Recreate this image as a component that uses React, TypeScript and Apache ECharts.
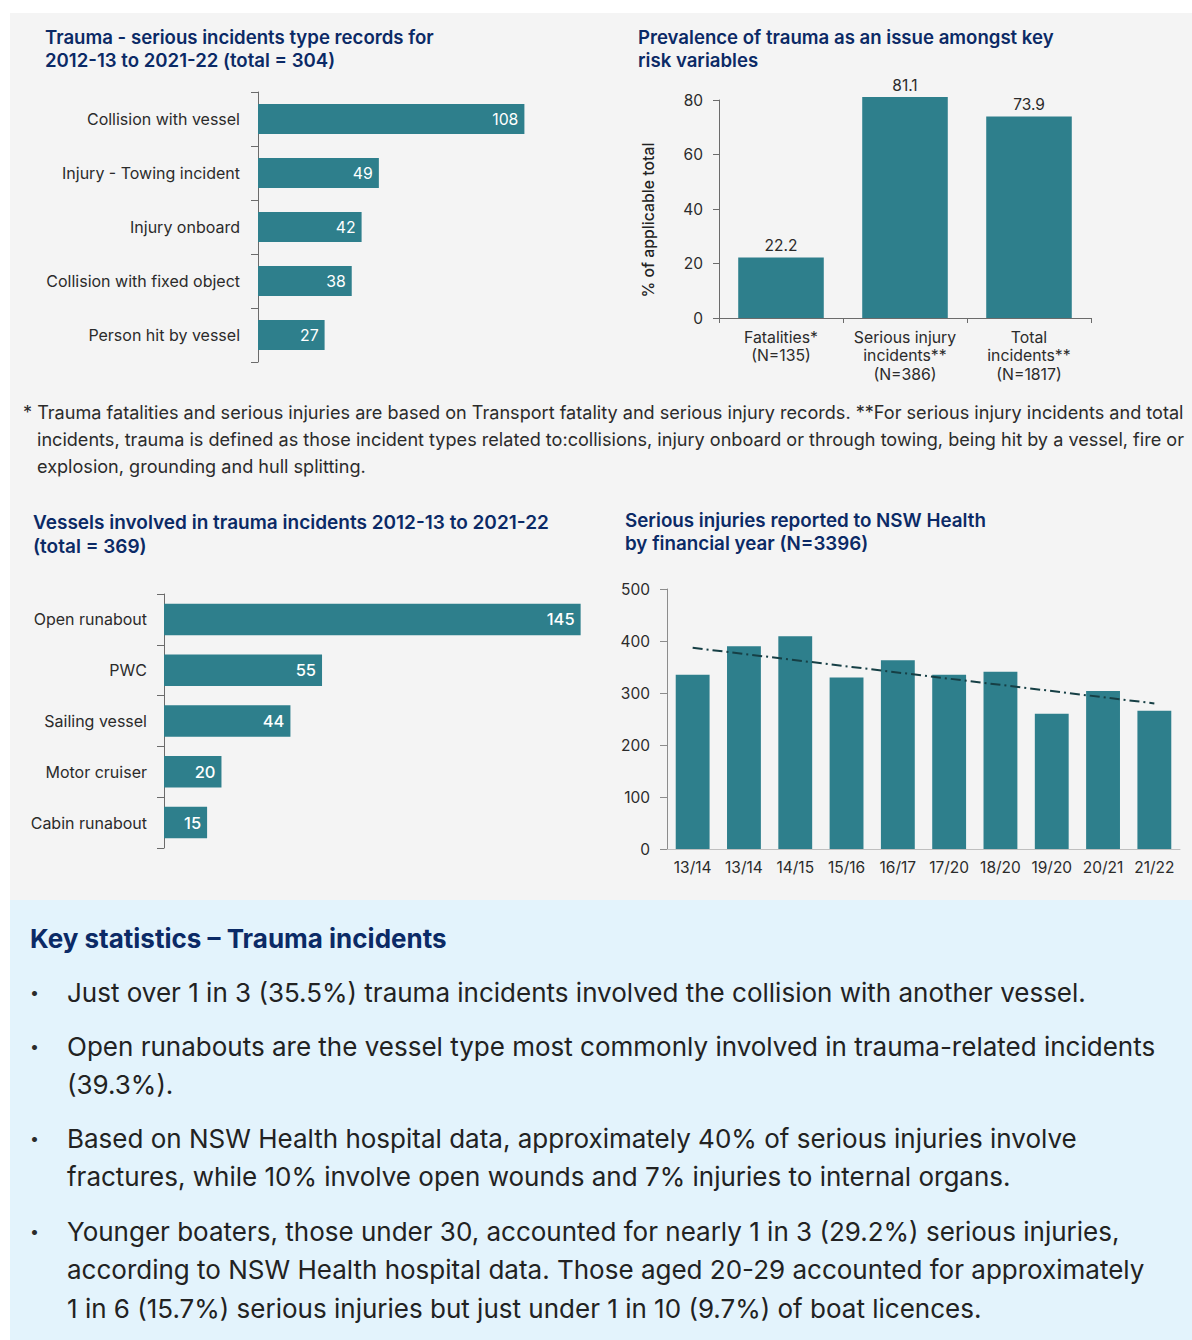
import React, { useEffect, useRef } from "react";
import * as echarts from "echarts";

const FONT = "Inter, 'Noto Sans', sans-serif";
const NAVY = "#0b2a66";
const TEAL = "#2e7f8c";
const TEXT = "#2b2b2b";

// Chart 1
const incidentTypes = [
  "Collision with vessel",
  "Injury - Towing incident",
  "Injury onboard",
  "Collision with fixed object",
  "Person hit by vessel",
];
const incidentCounts = [108, 49, 42, 38, 27];

// Chart 2
const riskCategories = [
  "Fatalities*\n(N=135)",
  "Serious injury\nincidents**\n(N=386)",
  "Total\nincidents**\n(N=1817)",
];
const riskPercent = [22.2, 81.1, 73.9];
const riskAxisName = "% of applicable total";

// Chart 3
const vesselTypes = ["Open runabout", "PWC", "Sailing vessel", "Motor cruiser", "Cabin runabout"];
const vesselCounts = [145, 55, 44, 20, 15];

// Chart 4
const financialYears = ["13/14", "13/14", "14/15", "15/16", "16/17", "17/20", "18/20", "19/20", "20/21", "21/22"];
const seriousInjuries = [335, 390, 409, 330, 363, 335, 341, 260, 304, 266];
const trendEnds = [387, 280];

// Texts
const title1Lines = ["Trauma - serious incidents type records for", "2012-13 to 2021-22 (total = 304)"];
const title2Lines = ["Prevalence of trauma as an issue amongst key", "risk variables"];
const title3Lines = ["Vessels involved in trauma incidents 2012-13 to 2021-22", "(total = 369)"];
const title4Lines = ["Serious injuries reported to NSW Health", "by financial year (N=3396)"];
const footnoteLines = [
  "* Trauma fatalities and serious injuries are based on Transport fatality and serious injury records. **For serious injury incidents and total",
  "incidents, trauma is defined as those incident types related to:collisions, injury onboard or through towing, being hit by a vessel, fire or",
  "explosion, grounding and hull splitting.",
];
const keyTitle = "Key statistics \u2013 Trauma incidents";
const keyBullets = [
  ["Just over 1 in 3 (35.5%) trauma incidents involved the collision with another vessel."],
  ["Open runabouts are the vessel type most commonly involved in trauma-related incidents", "(39.3%)."],
  [
    "Based on NSW Health hospital data, approximately 40% of serious injuries involve",
    "fractures, while 10% involve open wounds and 7% injuries to internal organs.",
  ],
  [
    "Younger boaters, those under 30, accounted for nearly 1 in 3 (29.2%) serious injuries,",
    "according to NSW Health hospital data. Those aged 20-29 accounted for approximately",
    "1 in 6 (15.7%) serious injuries but just under 1 in 10 (9.7%) of boat licences.",
  ],
];

function txt(text: string, x: number, y: number, size: number, color: string, weight: any = "normal") {
  return {
    type: "text",
    x,
    y,
    z: 10,
    style: {
      text,
      fontSize: size,
      fontFamily: FONT,
      fontWeight: weight,
      fill: color,
      verticalAlign: "middle",
      align: "left",
    },
  };
}

export default function App() {
  const ref = useRef<HTMLDivElement>(null);

  useEffect(() => {
    document.body.style.margin = "0";
    const chart = echarts.init(ref.current!, null, { renderer: "svg" });

    const graphics: any[] = [
      { type: "rect", z: -10, shape: { x: 10, y: 13, width: 1182, height: 887 }, style: { fill: "#f4f4f4" } },
      { type: "rect", z: -10, shape: { x: 10, y: 900, width: 1182, height: 440 }, style: { fill: "#e3f3fc" } },
    ];
    title1Lines.forEach((t, i) => graphics.push(txt(t, 45, 37 + i * 23, 18.6, NAVY, 600)));
    title2Lines.forEach((t, i) => graphics.push(txt(t, 638, 37 + i * 23, 18.6, NAVY, 600)));
    title3Lines.forEach((t, i) => graphics.push(txt(t, 33, 522 + i * 24, 19, NAVY, 600)));
    title4Lines.forEach((t, i) => graphics.push(txt(t, 625, 520 + i * 23, 18.8, NAVY, 600)));
    footnoteLines.forEach((t, i) => graphics.push(txt(t, i === 0 ? 23 : 37, 412 + i * 27, 18.1, TEXT)));
    graphics.push(txt(keyTitle, 30, 938, 26, NAVY, 700));
    const bulletY = [992, 1046, 1138, 1231];
    keyBullets.forEach((lines, b) => {
      graphics.push(txt("\u2022", 30, bulletY[b], 16, TEXT));
      lines.forEach((t, i) => graphics.push(txt(t, 67, bulletY[b] + i * 38.5, 26, "#222")));
    });
    // rotated y-axis title of chart 2
    graphics.push({
      type: "text",
      x: 648,
      y: 220,
      rotation: Math.PI / 2,
      z: 10,
      style: {
        text: riskAxisName,
        fontSize: 15.8,
        fontFamily: FONT,
        fontWeight: 500,
        fill: "#222",
        align: "center",
        verticalAlign: "middle",
      },
    });

    const axisGray = "#6b6b6b";
    const labelStyle = { fontFamily: FONT, color: TEXT };

    const option: any = {
      animation: false,
      backgroundColor: "#ffffff",
      textStyle: { fontFamily: FONT },
      graphic: { elements: graphics },
      grid: [
        { left: 258, top: 92, width: 296, height: 270 },
        { left: 719, top: 100, width: 372, height: 218 },
        { left: 164, top: 594, width: 431, height: 254 },
        { left: 667, top: 589, width: 513, height: 260 },
      ],
      xAxis: [
        { gridIndex: 0, type: "value", min: 0, max: 120, show: false },
        {
          gridIndex: 1,
          type: "category",
          data: riskCategories,
          axisLine: { lineStyle: { color: axisGray } },
          axisTick: { show: true, length: 5, lineStyle: { color: axisGray } },
          axisLabel: { ...labelStyle, fontSize: 15.8, lineHeight: 18.5, margin: 10, interval: 0 },
        },
        { gridIndex: 2, type: "value", min: 0, max: 150, show: false },
        {
          gridIndex: 3,
          type: "category",
          data: financialYears,
          axisLine: { lineStyle: { color: "#bfbfbf" } },
          axisTick: { show: false },
          axisLabel: { ...labelStyle, fontSize: 15.5, margin: 10, interval: 0 },
        },
      ],
      yAxis: [
        {
          gridIndex: 0,
          type: "category",
          inverse: true,
          data: incidentTypes,
          axisLine: { show: true, lineStyle: { color: axisGray } },
          axisTick: { show: true, length: 7, lineStyle: { color: axisGray } },
          axisLabel: { ...labelStyle, fontSize: 16, margin: 18 },
        },
        {
          gridIndex: 1,
          type: "value",
          min: 0,
          max: 80,
          interval: 20,
          axisLine: { show: true, lineStyle: { color: axisGray } },
          axisTick: { show: true, length: 6, lineStyle: { color: axisGray } },
          axisLabel: { ...labelStyle, fontSize: 15.5, margin: 16 },
          splitLine: { show: false },
        },
        {
          gridIndex: 2,
          type: "category",
          inverse: true,
          data: vesselTypes,
          axisLine: { show: true, lineStyle: { color: axisGray } },
          axisTick: { show: true, length: 7, lineStyle: { color: axisGray } },
          axisLabel: { ...labelStyle, fontSize: 16, margin: 17 },
        },
        {
          gridIndex: 3,
          type: "value",
          min: 0,
          max: 500,
          interval: 100,
          axisLine: { show: true, lineStyle: { color: "#8c8c8c" } },
          axisTick: { show: true, length: 7, lineStyle: { color: "#8c8c8c" } },
          axisLabel: { ...labelStyle, fontSize: 15.5, margin: 17 },
          splitLine: { show: false },
        },
      ],
      series: [
        {
          type: "bar",
          xAxisIndex: 0,
          yAxisIndex: 0,
          data: incidentCounts,
          barWidth: "56%",
          itemStyle: { color: TEAL },
          label: { show: true, position: "insideRight", distance: 6, color: "#fff", fontSize: 15.8, fontFamily: FONT },
        },
        {
          type: "bar",
          xAxisIndex: 1,
          yAxisIndex: 1,
          data: riskPercent,
          barWidth: "69%",
          clip: false,
          itemStyle: { color: TEAL },
          label: { show: true, position: "top", distance: 4, color: TEXT, fontSize: 15.5, fontFamily: FONT },
        },
        {
          type: "bar",
          xAxisIndex: 2,
          yAxisIndex: 2,
          data: vesselCounts,
          barWidth: "62%",
          itemStyle: { color: TEAL },
          label: {
            show: true,
            position: "insideRight",
            distance: 6,
            color: "#fff",
            fontSize: 16.5,
            fontWeight: 500,
            fontFamily: FONT,
          },
        },
        {
          type: "bar",
          xAxisIndex: 3,
          yAxisIndex: 3,
          data: seriousInjuries,
          barWidth: "66%",
          itemStyle: { color: TEAL },
        },
        {
          type: "line",
          xAxisIndex: 3,
          yAxisIndex: 3,
          data: [
            [0, trendEnds[0]],
            [financialYears.length - 1, trendEnds[1]],
          ],
          symbol: "none",
          lineStyle: { color: "#163f45", width: 2, type: [10, 4, 2, 4] },
          z: 5,
        },
      ],
    };

    chart.setOption(option);
    return () => chart.dispose();
  }, []);

  return <div ref={ref} style={{ position: "absolute", left: 0, top: 0, width: 1192, height: 1340 }} />;
}
